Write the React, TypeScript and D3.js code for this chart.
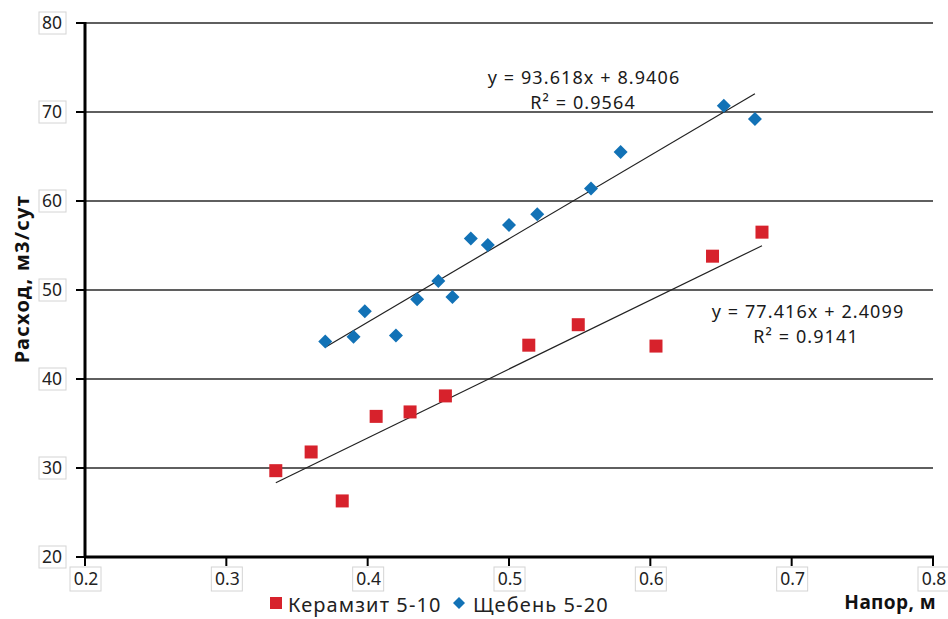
import * as d3 from 'd3'

// Керамзит 5-10 (red squares)
const keramX = [0.335, 0.36, 0.382, 0.406, 0.43, 0.455, 0.514, 0.549, 0.604, 0.644, 0.679]
const keramY = [29.7, 31.8, 26.3, 35.8, 36.3, 38.1, 43.8, 46.1, 43.7, 53.8, 56.5]
// Щебень 5-20 (blue diamonds)
const shchX = [0.37, 0.39, 0.398, 0.42, 0.435, 0.45, 0.46, 0.473, 0.485, 0.5, 0.52, 0.558, 0.579, 0.652, 0.674]
const shchY = [44.2, 44.75, 47.6, 44.9, 48.95, 51.0, 49.2, 55.8, 55.06, 57.3, 58.5, 61.4, 65.5, 70.7, 69.2]

const xTicks = [0.2, 0.3, 0.4, 0.5, 0.6, 0.7, 0.8]
const yTicks = [20, 30, 40, 50, 60, 70, 80]

// trend lines from the chart's own equations
const keramFit = { slope: 77.416, icpt: 2.4099, r2: '0.9141' }
const shchFit = { slope: 93.618, icpt: 8.9406, r2: '0.9564' }

const W = 948
const H = 619
const font = "'Noto Sans', 'Open Sans', sans-serif"

export default function App() {
  const x = d3.scaleLinear().domain([0.2, 0.8]).range([85, 933])
  const y = d3.scaleLinear().domain([20, 80]).range([557, 23])

  const fitLine = (fit: { slope: number; icpt: number }, xs: number[]) => {
    const x0 = d3.min(xs) as number
    const x1 = d3.max(xs) as number
    return d3.line<number>().x((d) => x(d)).y((d) => y(fit.slope * d + fit.icpt))([x0, x1]) || ''
  }

  const keram = keramX.map((v, i) => [v, keramY[i]])
  const shch = shchX.map((v, i) => [v, shchY[i]])

  return (
    <svg width={W} height={H} style={{ position: 'absolute', left: 0, top: 0, background: '#fff' }}>
      {/* gridlines */}
      <g>
        {yTicks.filter((t) => t > 20).map((t) => (
          <line key={t} x1={x(0.2)} x2={x(0.8)} y1={y(t)} y2={y(t)} stroke="#2a2a2a" strokeWidth={1.4} />
        ))}
      </g>

      {/* y axis */}
      <g>
        {yTicks.map((t) => (
          <g key={t}>
            <line x1={x(0.2) - 9} x2={x(0.2)} y1={y(t)} y2={y(t)} stroke="#000" strokeWidth={2} />
            <rect x={39} y={y(t) - 11} width={27} height={22} fill="#fff" stroke="#d4d4d4" strokeWidth={1} />
            <text x={62} y={y(t)} dy="0.36em" textAnchor="end" fontFamily={font} fontSize={17.5} fill="#222">{t}</text>
          </g>
        ))}
        <line x1={x(0.2)} x2={x(0.2)} y1={y(80) - 1} y2={y(20) + 1} stroke="#000" strokeWidth={3} />
      </g>

      {/* x axis */}
      <g>
        {xTicks.map((t) => (
          <g key={t}>
            <line x1={x(t)} x2={x(t)} y1={y(20)} y2={y(20) + 9} stroke="#000" strokeWidth={2} />
            <rect x={x(t) - 15} y={567} width={31} height={24} fill="#fff" stroke="#d4d4d4" strokeWidth={1} />
            <text x={x(t) + 1} y={579} dy="0.36em" textAnchor="middle" fontFamily={font} fontSize={17.5} fill="#222">{t.toFixed(1)}</text>
          </g>
        ))}
        <line x1={x(0.2) - 1} x2={x(0.8) + 1} y1={y(20)} y2={y(20)} stroke="#000" strokeWidth={3} />
      </g>

      {/* trend lines */}
      <path d={fitLine(shchFit, shchX)} stroke="#222" strokeWidth={1.2} fill="none" />
      <path d={fitLine(keramFit, keramX)} stroke="#222" strokeWidth={1.2} fill="none" />

      {/* points */}
      <g>
        {keram.map(([a, b], i) => (
          <rect key={i} x={x(a) - 6.5} y={y(b) - 6.5} width={13} height={13} fill="#d7222c" />
        ))}
        {shch.map(([a, b], i) => (
          <path key={i} d={`M${x(a)},${y(b) - 7}L${x(a) + 7},${y(b)}L${x(a)},${y(b) + 7}L${x(a) - 7},${y(b)}Z`} fill="#1272b6" />
        ))}
      </g>

      {/* equations */}
      <g fontFamily={font} fontSize={18} fill="#1a1a1a" textAnchor="middle" letterSpacing={1.1}>
        <text x={584} y={84}>{`y = ${shchFit.slope}x + ${shchFit.icpt}`}</text>
        <text x={583} y={109}>R² = {shchFit.r2}</text>
        <text x={808} y={318}>{`y = ${keramFit.slope}x + ${keramFit.icpt}`}</text>
        <text x={806} y={343}>R² = {keramFit.r2}</text>
      </g>

      {/* axis titles */}
      <text transform={`translate(29,279) rotate(-90)`} textAnchor="middle" fontFamily={font} fontWeight="bold" fontSize={20} letterSpacing={1.3} fill="#111">Расход, м3/сут</text>
      <text x={936} y={609} textAnchor="end" fontFamily={font} fontWeight="bold" fontSize={19} letterSpacing={0.4} fill="#111">Напор,  м</text>

      {/* legend */}
      <g fontFamily={font} fontSize={20} fill="#222" letterSpacing={1.1}>
        <rect x={270} y={597} width={12} height={12} fill="#d7222c" />
        <text x={288} y={612}>Керамзит 5-10</text>
        <path d="M459,597L465,603L459,609L453,603Z" fill="#1272b6" />
        <text x={473} y={612}>Щебень 5-20</text>
      </g>
    </svg>
  )
}
